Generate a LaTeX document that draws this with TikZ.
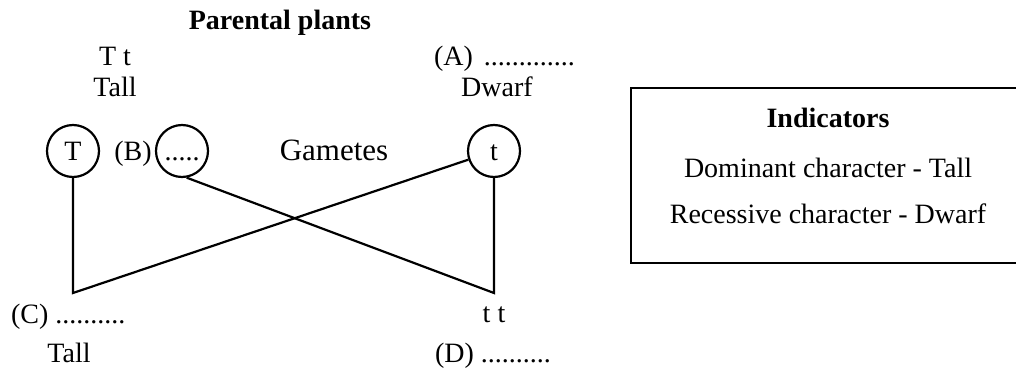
\documentclass[tikz,border=0pt]{standalone}
\usepackage{fontspec}
\setmainfont{Liberation Serif}
\usepackage{tikz}
\usetikzlibrary{positioning}
\newcommand\Fnt{\fontsize{14}{16}\selectfont}

\begin{document}
\begin{tikzpicture}[x=0.5pt, y=-0.5pt, line width=1.1pt,
                every node/.style={font=\Fnt},
                lbl/.style={anchor=base, inner sep=0pt},
                gamete/.style={circle, draw, line width=1.1pt, minimum size=26pt, inner sep=0pt, text height=9pt, text depth=0pt}]
                \useasboundingbox (0,0) rectangle (1016,369);

                \node [lbl, font=\Fnt\bfseries] (title) at (280,30) {Parental plants};
                \node [lbl] (pgeno) at (115,66) {T t};
                \node [lbl] (pphen) at (115,97) {Tall};
                \node [lbl, anchor=base west] (agen) at (433,66) {(A) \hspace{2pt}.............};
                \node [lbl] (dphen) at (497,97) {Dwarf};

                \node [gamete] (gT) at (73,151) {T};
                \node [lbl] (blbl) at (133,160) {(B)};
                \node [gamete] (gB) at (182,151) {.....};
                \node [lbl, font=\fontsize{15.5}{18}\selectfont] (gam) at (334,160) {Gametes};
                \node [gamete] (gt) at (494,151) {t};

                \coordinate (cC) at (73,293);
                \coordinate (cD) at (494,293);
                \draw (gT.south) -- (cC) -- (gt);
                \draw (gB.-80) -- (cD) -- (gt.south);

                \node [lbl, anchor=base west] (cgen) at (10,323) {(C) ..........};
                \node [lbl] (cphen) at (69,362) {Tall};
                \node [lbl] (dgen) at (494,322) {t t};
                \node [lbl, anchor=base west] (dgeno) at (434,362) {(D) ..........};

                % indicators box
                \draw (1016,88) -| (631,263) -- (1016,263);
                \node [lbl, font=\Fnt\bfseries] (ind) at (828,127) {Indicators};
                \node [lbl] (dom) at (828,177) {Dominant character - Tall};
                \node [lbl] (rec) at (828,223) {Recessive character - Dwarf};
\end{tikzpicture}
\end{document}
